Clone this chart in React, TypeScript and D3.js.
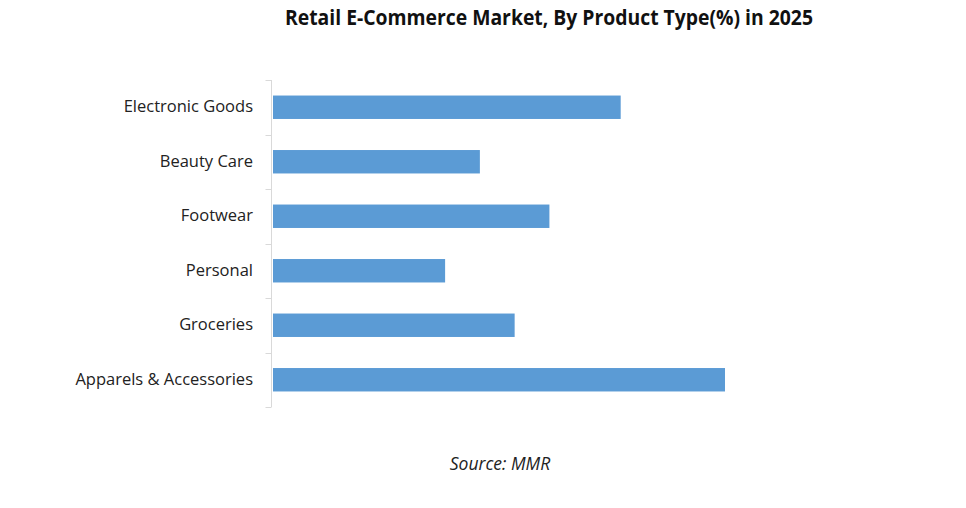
import React, { useEffect, useRef } from "react";
import * as d3 from "d3";

const categories = ["Electronic Goods", "Beauty Care", "Footwear", "Personal", "Groceries", "Apparels & Accessories"];
const values = [20, 11.9, 15.9, 9.9, 13.9, 26];
const title = "Retail E-Commerce Market, By Product Type(%) in 2025";
const source = "Source: MMR";

export default function App() {
  const ref = useRef<SVGSVGElement | null>(null);
  useEffect(() => {
    const svg = d3.select(ref.current);
    svg.selectAll("*").remove();
    const W = 966, H = 508;
    const x0 = 273, top = 80, bottom = 407, axisX = 271.5;
    const x = d3.scaleLinear().domain([0, 26]).range([x0, 725]);
    const y = d3.scaleBand().domain(categories).range([top, bottom]).paddingInner(0.57).paddingOuter(0.285);
    const yOuter = d3.scaleBand().domain(categories).range([top, bottom]);

    svg.append("rect").attr("width", W).attr("height", H).attr("fill", "#fff");

    svg.append("text")
      .attr("x", 549).attr("y", 25)
      .attr("text-anchor", "middle")
      .attr("font-family", "'Open Sans', sans-serif")
      .attr("font-weight", "bold")
      .attr("font-size", 20.5)
      .attr("textLength", 528)
      .attr("lengthAdjust", "spacingAndGlyphs")
      .attr("fill", "#111")
      .text(title);

    svg.append("line").attr("x1", axisX).attr("x2", axisX).attr("y1", top).attr("y2", bottom)
      .attr("stroke", "#d9d9d9").attr("stroke-width", 1);
    const ticks = [...categories.map((c) => yOuter(c) as number), bottom];
    svg.selectAll("line.tick").data(ticks).enter().append("line")
      .attr("class", "tick")
      .attr("x1", 265.5).attr("x2", axisX)
      .attr("y1", (d) => Math.round(d) + 0.5).attr("y2", (d) => Math.round(d) + 0.5)
      .attr("stroke", "#d9d9d9").attr("stroke-width", 1);

    svg.selectAll("rect.bar").data(categories).enter().append("rect")
      .attr("class", "bar")
      .attr("x", x(0))
      .attr("y", (c) => y(c) as number)
      .attr("width", (c, i) => x(values[i]) - x(0))
      .attr("height", y.bandwidth())
      .attr("fill", "#5B9BD5");

    svg.selectAll("text.lab").data(categories).enter().append("text")
      .attr("class", "lab")
      .attr("x", 253)
      .attr("y", (c) => (yOuter(c) as number) + yOuter.bandwidth() / 2 - 1)
      .attr("dy", "0.35em")
      .attr("text-anchor", "end")
      .attr("font-family", "'Open Sans', sans-serif")
      .attr("font-size", 16.5)
      .attr("fill", "#222")
      .text((c) => c);

    svg.append("text")
      .attr("x", 500).attr("y", 470)
      .attr("text-anchor", "middle")
      .attr("font-family", "'Open Sans', sans-serif")
      .attr("font-style", "italic")
      .attr("font-size", 17.5)
      .attr("fill", "#222")
      .text(source);
  }, []);
  return (
    <svg ref={ref} width={966} height={508} style={{ position: "absolute", left: 0, top: 0 }} />
  );
}
